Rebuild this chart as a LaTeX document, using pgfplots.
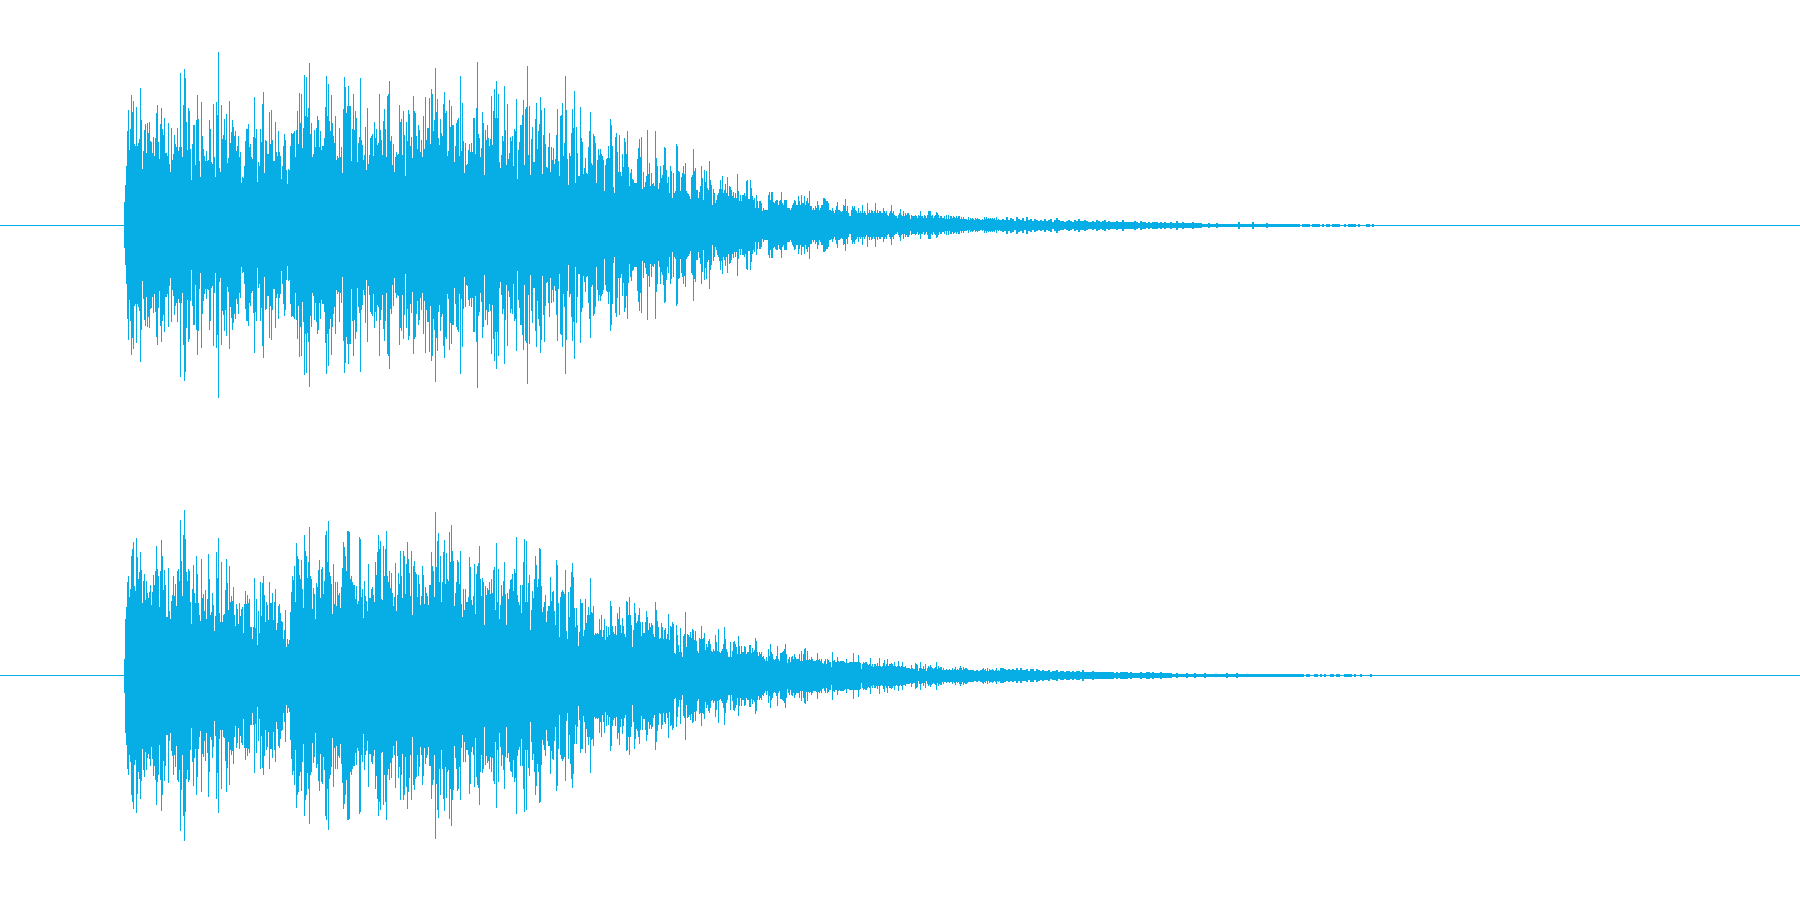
\documentclass[border=0pt]{standalone}
\usepackage{pgfplots}
\usepackage{pgfplotstable}
\pgfplotsset{compat=1.18}
\definecolor{wave}{HTML}{07AEE6}
\pgfplotstableread[row sep=\\,header=false]{
23\\40\\59\\94\\115\\75\\96\\130\\113\\124\\81\\79\\118\\79\\82\\86\\137\\105\\56\\74\\95\\101\\72\\102\\92\\103\\84\\83\\72\\88\\69\\87\\112\\120\\83\\66\\101\\117\\96\\90\\107\\72\\72\\69\\102\\61\\53\\97\\65\\71\\90\\81\\78\\97\\74\\78\\152\\78\\68\\120\\156\\147\\103\\75\\117\\114\\76\\45\\81\\100\\100\\60\\105\\130\\106\\64\\48\\123\\89\\76\\69\\64\\74\\64\\65\\105\\96\\63\\61\\121\\68\\48\\123\\110\\173\\
57\\53\\120\\86\\90\\106\\85\\111\\62\\67\\124\\82\\93\\105\\98\\89\\94\\74\\79\\89\\68\\73\\42\\48\\47\\59\\84\\96\\96\\101\\78\\81\\68\\66\\88\\128\\87\\96\\43\\63\\59\\96\\83\\121\\133\\52\\85\\84\\71\\71\\113\\81\\115\\85\\64\\64\\103\\73\\69\\94\\73\\69\\46\\59\\79\\91\\85\\55\\41\\56\\55\\79\\92\\91\\92\\94\\68\\95\\114\\81\\132\\102\\131\\77\\97\\150\\109\\148\\108\\117\\162\\91\\102\\68\\71\\95\\78\\97\\109\\105\\78\\94\\75\\79\\79\\87\\118\\149\\109\\141\\104\\94\\130\\102\\89\\82\\109\\65\\69\\67\\97\\68\\78\\52\\116\\148\\138\\112\\119\\139\\119\\119\\64\\96\\131\\95\\114\\107\\63\\82\\88\\147\\85\\80\\65\\70\\98\\55\\117\\61\\70\\87\\89\\91\\69\\103\\87\\96\\80\\82\\131\\95\\85\\70\\104\\116\\96\\68\\129\\131\\144\\84\\89\\60\\81\\53\\68\\73\\70\\71\\120\\
103\\106\\70\\114\\90\\49\\103\\84\\115\\111\\79\\88\\67\\129\\114\\112\\89\\76\\100\\95\\73\\85\\68\\109\\76\\128\\85\\97\\97\\127\\81\\136\\131\\94\\105\\157\\113\\126\\87\\80\\106\\92\\89\\121\\133\\112\\114\\69\\74\\125\\98\\119\\100\\100\\63\\79\\102\\105\\107\\69\\149\\74\\122\\84\\52\\82\\60\\61\\75\\81\\73\\82\\73\\107\\107\\71\\117\\163\\91\\87\\68\\77\\113\\102\\50\\95\\85\\100\\87\\79\\86\\129\\80\\114\\136\\107\\144\\107\\131\\63\\57\\70\\89\\84\\139\\95\\60\\121\\66\\72\\88\\84\\89\\59\\96\\94\\126\\46\\75\\83\\100\\100\\110\\125\\60\\116\\118\\159\\70\\119\\50\\86\\98\\63\\63\\106\\122\\76\\94\\101\\128\\115\\51\\90\\117\\81\\58\\57\\78\\92\\53\\78\\65\\77\\61\\66\\90\\116\\64\\49\\109\\110\\122\\69\\82\\149\\115\\66\\40\\72\\69\\92\\116\\97\\134\\42\\98\\72\\49\\49\\118\\87\\83\\51\\57\\67\\52\\51\\78\\94\\113\\62\\60\\91\\89\\82\\42\\65\\76\\70\\76\\71\\69\\65\\34\\60\\66\\67\\79\\67\\106\\100\\79\\38\\32\\88\\92\\73\\53\\90\\53\\49\\71\\58\\87\\83\\71\\94\\58\\39\\52\\56\\46\\45\\42\\42\\42\\66\\77\\86\\68\\88\\36\\53\\38\\43\\49\\95\\51\\62\\39\\52\\41\\42\\39\\94\\67\\59\\36\\42\\59\\47\\50\\60\\78\\77\\55\\42\\48\\32\\59\\54\\27\\52\\32\\34\\81\\79\\54\\53\\34\\48\\52\\59\\51\\62\\34\\32\\31\\29\\26\\48\\50\\76\\54\\57\\35\\35\\27\\33\\
39\\59\\47\\25\\55\\43\\54\\37\\35\\64\\45\\40\\20\\36\\32\\22\\25\\30\\32\\36\\45\\36\\49\\32\\35\\41\\32\\48\\29\\39\\38\\35\\29\\33\\27\\32\\27\\51\\34\\24\\30\\24\\30\\30\\32\\29\\44\\45\\26\\26\\45\\37\\29\\25\\27\\17\\30\\24\\17\\24\\24\\22\\14\\17\\15\\15\\15\\15\\30\\33\\25\\33\\33\\23\\22\\24\\25\\25\\20\\24\\25\\33\\22\\20\\25\\25\\25\\17\\17\\17\\15\\17\\20\\22\\25\\24\\20\\20\\29\\24\\20\\30\\22\\22\\29\\20\\24\\27\\22\\34\\19\\19\\15\\17\\15\\19\\17\\24\\20\\15\\17\\20\\20\\27\\27\\26\\24\\24\\22\\15\\15\\14\\17\\14\\12\\15\\19\\23\\15\\15\\14\\13\\14\\20\\19\\26\\14\\19\\12\\9\\9\\15\\19\\17\\19\\15\\14\\12\\17\\12\\14\\12\\20\\12\\14\\12\\10\\22\\12\\15\\12\\15\\14\\12\\14\\22\\12\\15\\12\\14\\14\\12\\12\\17\\14\\12\\14\\10\\9\\12\\14\\20\\12\\14\\10\\9\\9\\7\\10\\12\\16\\10\\9\\14\\9\\12\\10\\12\\12\\10\\6\\10\\9\\9\\9\\10\\9\\7\\10\\9\\14\\9\\9\\7\\10\\9\\7\\10\\14\\14\\14\\9\\10\\7\\9\\10\\13\\12\\10\\7\\9\\9\\7\\7\\9\\6\\10\\6\\10\\6\\9\\9\\7\\9\\8\\7\\9\\7\\9\\9\\6\\8\\6\\8\\6\\6\\6\\5\\8\\5\\7\\6\\7\\6\\5\\7\\6\\7\\6\\6\\5\\5\\6\\5\\8\\6\\8\\6\\7\\6\\7\\6\\7\\6\\7\\5\\8\\5\\6\\5\\
}\chA
\pgfplotstableread[row sep=\\,header=false]{
5.5\\6.5\\5.5\\8.5\\5.5\\7.5\\6.5\\4.5\\8.5\\6.5\\5.5\\7.5\\4.5\\8.5\\5.5\\6.5\\4.5\\6.5\\5.5\\4.5\\5.5\\4.5\\6.5\\4.5\\5.5\\6.5\\3.5\\5.5\\7.5\\5.5\\4.5\\4.5\\3.5\\4.5\\5.5\\4.5\\3.5\\5.5\\4.5\\6.5\\4.5\\4.5\\5.5\\4.5\\3.5\\3.5\\4.5\\3.5\\5.5\\4.5\\3.5\\4.5\\5.5\\3.5\\4.5\\3.5\\3.5\\3.5\\4.5\\3.5\\3.5\\5.5\\3.5\\3.5\\3.5\\3.5\\3.5\\4.5\\3.5\\2.5\\4.5\\3.5\\3.5\\2.5\\3.5\\2.5\\3.5\\3.5\\3.5\\2.5\\3.5\\2.5\\3.5\\2.5\\2.5\\3.5\\2.5\\2.5\\4.5\\2.5\\2.5\\3.5\\2.5\\2.5\\2.5\\2.5\\3.5\\2.5\\2.5\\2.5\\2.5\\1.5\\1.5\\1.5\\2.5\\1.5\\1.5\\1.5\\2.5\\1.5\\1.5\\1.5\\1.5\\1.5\\1.5\\1.5\\1.5\\1.5\\1.5\\3.5\\1.5\\1.5\\1.5\\1.5\\1.5\\1.5\\3.5\\1.5\\1.5\\1.5\\1.5\\1.5\\1.5\\2.5\\1.5\\1.5\\1.5\\1.5\\1.5\\1.5\\1.5\\1.5\\1.5\\1.5\\1.5\\1.5\\1.5\\1.5\\1.5\\1.5\\0\\1.5\\1.5\\1.5\\1.5\\0\\1.5\\1.5\\1.5\\1.5\\0\\1.5\\0\\1.5\\1.5\\0\\1.5\\1.5\\1.5\\1.5\\0\\0\\1.5\\0\\1.5\\1.5\\1.5\\1.5\\0\\1.5\\0\\0\\0\\1.5\\1.5\\0\\1.5\\
}\chAtail
\pgfplotstableread[row sep=\\,header=false]{
17\\57\\69\\94\\100\\79\\87\\120\\127\\134\\90\\85\\138\\119\\97\\104\\124\\106\\73\\95\\102\\76\\95\\83\\78\\84\\91\\71\\84\\101\\91\\105\\130\\107\\100\\69\\105\\136\\120\\86\\106\\91\\59\\59\\108\\65\\57\\75\\81\\100\\80\\92\\70\\105\\107\\95\\156\\115\\80\\141\\166\\137\\104\\95\\107\\105\\74\\52\\87\\111\\83\\73\\120\\102\\73\\61\\55\\117\\78\\82\\65\\86\\57\\77\\122\\97\\61\\64\\83\\71\\45\\60\\124\\98\\138\\63\\54\\114\\54\\61\\62\\86\\117\\93\\66\\110\\74\\80\\75\\89\\61\\50\\72\\67\\52\\73\\60\\67\\69\\43\\72\\85\\72\\81\\73\\77\\49\\49\\37\\49\\98\\48\\77\\31\\65\\43\\94\\60\\93\\100\\81\\54\\74\\71\\56\\94\\73\\73\\83\\56\\74\\87\\46\\53\\70\\72\\63\\55\\54\\37\\46\\66\\29\\37\\32\\36\\64\\84\\100\\96\\110\\74\\133\\120\\117\\101\\97\\116\\87\\68\\141\\125\\120\\98\\114\\149\\100\\97\\67\\88\\82\\57\\93\\89\\106\\116\\78\\107\\109\\82\\95\\141\\145\\114\\155\\104\\100\\92\\62\\112\\72\\94\\70\\94\\81\\83\\68\\89\\108\\134\\129\\120\\105\\145\\145\\144\\97\\100\\94\\91\\91\\77\\90\\72\\75\\139\\137\\79\\87\\58\\95\\80\\75\\65\\112\\78\\78\\87\\89\\81\\74\\114\\101\\124\\141\\127\\135\\77\\76\\130\\100\\127\\145\\100\\94\\105\\88\\103\\83\\70\\79\\113\\65\\81\\103\\92\\
125\\100\\78\\125\\120\\82\\112\\134\\117\\103\\80\\125\\61\\110\\115\\104\\102\\79\\101\\92\\71\\80\\110\\101\\72\\89\\83\\80\\71\\91\\91\\124\\110\\105\\79\\164\\109\\135\\143\\94\\120\\74\\94\\124\\136\\92\\123\\97\\95\\144\\114\\151\\125\\115\\70\\83\\94\\116\\114\\92\\125\\72\\59\\87\\66\\87\\74\\74\\79\\119\\109\\76\\71\\80\\112\\62\\102\\110\\113\\130\\97\\80\\98\\94\\51\\90\\81\\88\\86\\94\\82\\97\\83\\106\\109\\66\\133\\74\\107\\57\\71\\91\\80\\95\\114\\82\\51\\83\\77\\87\\96\\97\\102\\85\\107\\103\\139\\81\\74\\71\\91\\63\\91\\114\\137\\74\\135\\74\\93\\101\\46\\66\\85\\78\\97\\120\\111\\89\\97\\128\\127\\90\\64\\69\\74\\81\\54\\65\\70\\70\\99\\75\\84\\85\\65\\51\\116\\111\\73\\39\\79\\84\\86\\84\\82\\106\\45\\37\\84\\59\\89\\104\\113\\99\\68\\49\\68\\51\\30\\44\\77\\73\\73\\40\\46\\77\\53\\61\\69\\61\\98\\64\\63\\70\\41\\43\\42\\43\\42\\57\\46\\61\\39\\46\\57\\36\\50\\39\\49\\41\\75\\70\\50\\44\\42\\50\\41\\63\\57\\69\\51\\43\\58\\50\\42\\39\\75\\74\\61\\79\\61\\51\\29\\46\\73\\63\\53\\55\\61\\68\\54\\40\\54\\43\\43\\54\\65\\59\\46\\53\\49\\53\\51\\42\\39\\74\\66\\55\\49\\37\\38\\53\\49\\37\\46\\48\\37\\42\\62\\36\\50\\49\\54\\52\\23\\22\\51\\41\\31\\24\\48\\24\\19\\40\\42\\64\\29\\42\\41\\39\\44\\38\\47\\46\\36\\45\\35\\25\\23\\38\\
37\\50\\37\\38\\43\\26\\32\\29\\35\\37\\32\\25\\24\\27\\25\\41\\34\\25\\47\\24\\23\\25\\27\\32\\49\\37\\27\\24\\19\\19\\34\\19\\25\\34\\35\\32\\29\\22\\40\\30\\22\\30\\24\\24\\30\\29\\22\\24\\24\\31\\31\\23\\28\\24\\26\\38\\35\\24\\20\\24\\22\\24\\19\\20\\17\\15\\19\\15\\27\\20\\32\\24\\22\\17\\16\\17\\20\\30\\17\\15\\23\\23\\24\\25\\27\\32\\22\\13\\17\\19\\14\\19\\20\\17\\22\\19\\17\\17\\17\\22\\15\\25\\15\\22\\27\\28\\16\\25\\16\\17\\16\\19\\17\\15\\15\\15\\16\\23\\16\\17\\15\\17\\13\\12\\15\\17\\12\\17\\16\\14\\14\\9\\24\\15\\16\\14\\14\\19\\15\\14\\15\\15\\15\\15\\14\\13\\17\\13\\13\\14\\14\\14\\14\\23\\14\\14\\14\\14\\21\\14\\13\\7\\12\\14\\13\\14\\14\\12\\11\\12\\18\\10\\12\\9\\12\\12\\10\\13\\10\\18\\10\\9\\10\\13\\16\\10\\12\\17\\10\\12\\12\\13\\12\\10\\14\\10\\9\\10\\15\\10\\9\\10\\14\\9\\9\\10\\8\\8\\8\\8\\7\\11\\8\\7\\7\\13\\12\\11\\5\\8\\14\\8\\7\\10\\7\\12\\5\\8\\10\\9\\11\\9\\8\\7\\8\\9\\14\\7\\10\\8\\9\\9\\6\\8\\6\\6\\7\\6\\6\\7\\6\\6\\8\\6\\7\\9\\6\\7\\6\\8\\10\\8\\6\\9\\7\\8\\8\\7\\6\\6\\6\\6\\6\\6\\5\\5\\6\\6\\5\\5\\6\\6\\7\\8\\6\\7\\5\\8\\5\\7\\6\\6\\7\\6\\5\\6\\8\\5\\6\\5\\
}\chB
\pgfplotstableread[row sep=\\,header=false]{
7.5\\7.5\\6.5\\5.5\\6.5\\5.5\\6.5\\5.5\\7.5\\5.5\\7.5\\5.5\\5.5\\6.5\\4.5\\6.5\\6.5\\4.5\\6.5\\5.5\\4.5\\5.5\\4.5\\4.5\\5.5\\3.5\\4.5\\4.5\\5.5\\3.5\\4.5\\4.5\\3.5\\4.5\\4.5\\3.5\\4.5\\3.5\\4.5\\4.5\\3.5\\5.5\\3.5\\3.5\\3.5\\3.5\\4.5\\3.5\\3.5\\3.5\\3.5\\3.5\\3.5\\3.5\\3.5\\3.5\\3.5\\2.5\\3.5\\2.5\\3.5\\3.5\\3.5\\3.5\\2.5\\3.5\\2.5\\2.5\\2.5\\2.5\\3.5\\2.5\\2.5\\3.5\\3.5\\2.5\\3.5\\2.5\\2.5\\2.5\\3.5\\2.5\\2.5\\2.5\\2.5\\2.5\\1.5\\1.5\\2.5\\1.5\\1.5\\1.5\\1.5\\2.5\\1.5\\1.5\\1.5\\2.5\\1.5\\1.5\\1.5\\1.5\\2.5\\1.5\\1.5\\1.5\\1.5\\1.5\\1.5\\1.5\\1.5\\1.5\\1.5\\2.5\\1.5\\1.5\\1.5\\1.5\\2.5\\1.5\\1.5\\1.5\\1.5\\1.5\\1.5\\1.5\\1.5\\1.5\\1.5\\1.5\\1.5\\1.5\\1.5\\1.5\\1.5\\1.5\\1.5\\1.5\\1.5\\1.5\\1.5\\1.5\\1.5\\1.5\\1.5\\1.5\\1.5\\1.5\\1.5\\1.5\\1.5\\1.5\\0\\1.5\\1.5\\0\\0\\1.5\\1.5\\0\\1.5\\0\\1.5\\0\\0\\1.5\\1.5\\0\\1.5\\1.5\\0\\0\\1.5\\1.5\\1.5\\1.5\\0\\1.5\\0\\0\\1.5\\0\\0\\0\\0\\1.5\\0\\0\\
}\chBtail
\pgfplotsset{
  wavebox/.style={scale only axis,width=900bp,height=225bp,xmin=0,xmax=1800,ymin=-224.5,ymax=225.5,hide axis,clip=true},
  spike/.style={ycomb,mark=none,color=wave,line width=0.5bp},
  tailspike/.style={ycomb,mark=none,color=wave,line width=1bp},
}
\begin{document}
\begin{tikzpicture}
\path[use as bounding box] (0,0) rectangle (900bp,450bp);
\begin{axis}[wavebox,at={(0,225bp)},anchor=south west]
\addplot[color=wave,line width=0.5bp,mark=none] coordinates {(0,0)(1800,0)};
\addplot[spike] table[x expr=\coordindex+124.5,y index=0] {\chA};
\addplot[spike] table[x expr=\coordindex+124.5,y index=0,y expr=-\thisrowno{0}] {\chA};
\addplot[tailspike] table[x expr=\coordindex*2+1001,y index=0] {\chAtail};
\addplot[tailspike] table[x expr=\coordindex*2+1001,y index=0,y expr=-\thisrowno{0}] {\chAtail};
\end{axis}
\begin{axis}[wavebox,at={(0,0)},anchor=south west]
\addplot[color=wave,line width=0.5bp,mark=none] coordinates {(0,0)(1800,0)};
\addplot[spike] table[x expr=\coordindex+124.5,y index=0] {\chB};
\addplot[spike] table[x expr=\coordindex+124.5,y index=0,y expr=-\thisrowno{0}] {\chB};
\addplot[tailspike] table[x expr=\coordindex*2+1001,y index=0] {\chBtail};
\addplot[tailspike] table[x expr=\coordindex*2+1001,y index=0,y expr=-\thisrowno{0}] {\chBtail};
\end{axis}
\end{tikzpicture}
\end{document}
